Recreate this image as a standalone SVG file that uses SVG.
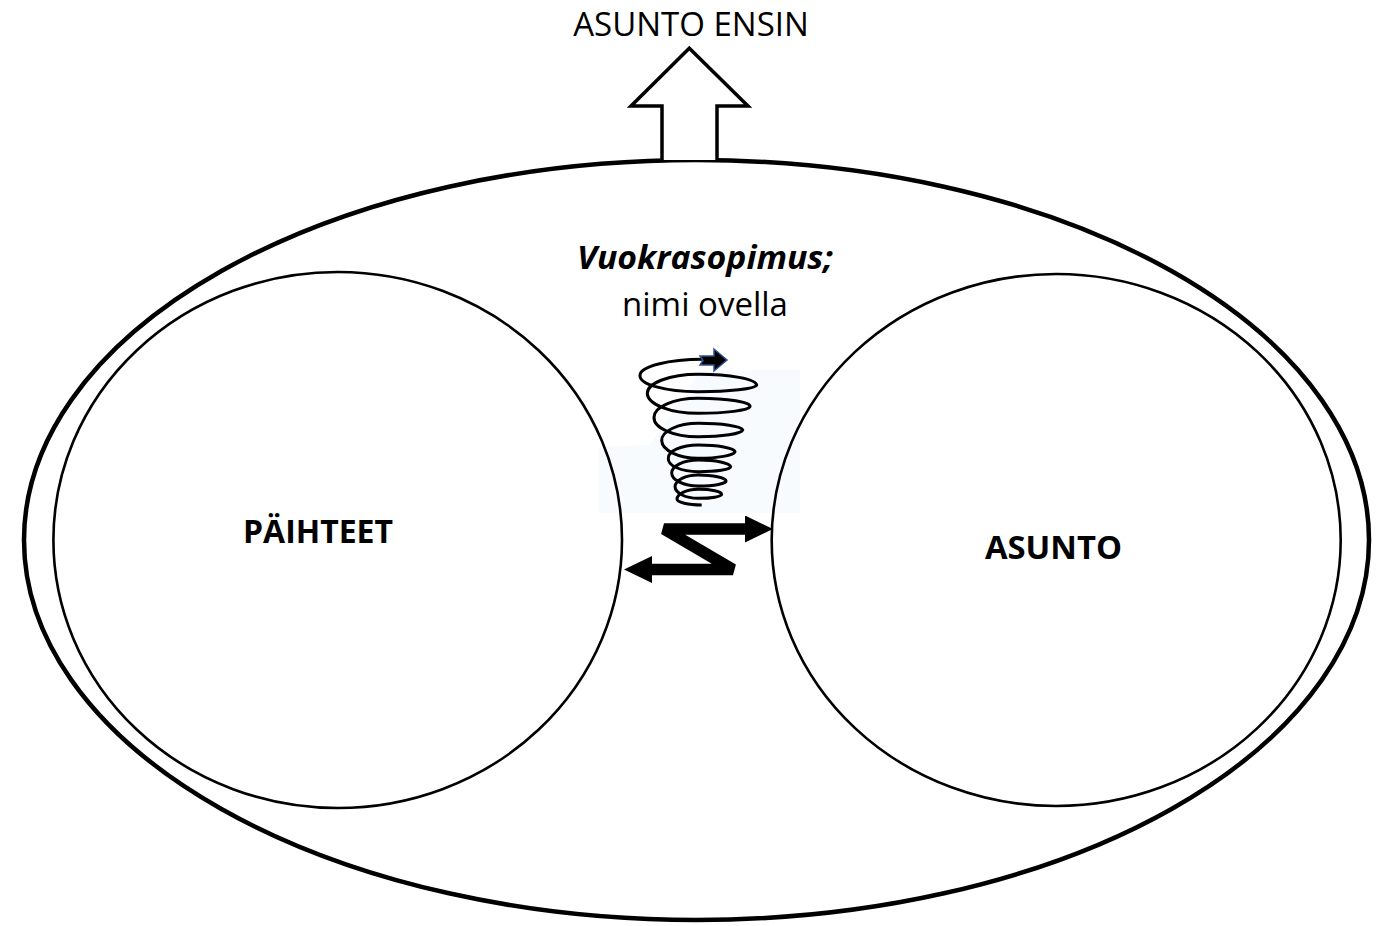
<svg xmlns="http://www.w3.org/2000/svg" width="1386" height="926" viewBox="0 0 1386 926">
<style>
.line{fill:none;stroke:#000}
.txt{font-family:"Open Sans","Liberation Sans",sans-serif;font-size:33px;fill:#000;text-anchor:middle}
.b{font-weight:bold}
.bi{font-weight:bold;font-style:italic}
</style>
<defs>
<marker id="head" markerUnits="userSpaceOnUse" viewBox="0 -13.5 28 27" refX="0" refY="0" markerWidth="28" markerHeight="27" orient="auto-start-reverse">
<path d="M0,-13.5 L28,0 L0,13.5 Z" fill="#000"/>
</marker>
</defs>
<rect width="1386" height="926" fill="#fff"/>
<path d="M760,370 H800 V513 H598 V447 L650,445 L700,372 Z" fill="#F8FBFE"/>
<g id="outer">
<ellipse class="line" cx="696.5" cy="540" rx="672.5" ry="380" stroke-width="4.5"/>
</g>
<g id="paihteet">
<ellipse class="line" cx="337.7" cy="540" rx="284.3" ry="268" stroke-width="2.6"/>
<text class="txt b" x="318" y="543" textLength="150" lengthAdjust="spacingAndGlyphs">PÄIHTEET</text>
</g>
<g id="asunto">
<ellipse class="line" cx="1056.2" cy="540" rx="284.5" ry="266" stroke-width="2.6"/>
<text class="txt b" x="1053.5" y="559" textLength="137" lengthAdjust="spacingAndGlyphs">ASUNTO</text>
</g>
<g id="asunto-ensin">
<text class="txt" x="691" y="36">ASUNTO ENSIN</text>
<path d="M662,160 V106 H631 L689.3,48.3 L748,106 H717 V160" fill="#fff" stroke="#000" stroke-width="3.5" stroke-linejoin="miter"/>
</g>
<g id="vuokrasopimus">
<text class="txt bi" x="705" y="269" textLength="256" lengthAdjust="spacingAndGlyphs">Vuokrasopimus;</text>
<text class="txt" x="705" y="316">nimi ovella</text>
</g>
<g id="spiral">
<path class="line" stroke-width="3" d="M703.3,359.3 A63,16 0 0 0 640,375.3 A58,16 0 0 0 698.3,391.7 A58,7 0 0 0 756.7,385 A58,11 0 0 0 698.3,374.3 A51,19 0 0 0 647.3,393.7 A51,20 0 0 0 698.3,413.3 A52,7 0 0 0 750,406.7 A52,8 0 0 0 698.3,398.3 A44,19 0 0 0 654,417.3 A44,19 0 0 0 698.3,436.7 A44,7 0 0 0 742.7,430 A44,7 0 0 0 698.3,423.3 A37,17 0 0 0 661.7,440.7 A37,18 0 0 0 698.3,458.3 A37,7 0 0 0 735,451.7 A37,7 0 0 0 698.3,445 A30,13 0 0 0 668.3,458.3 A30,13 0 0 0 698.3,471.7 A32,5 0 0 0 730.7,466.7 A32,7 0 0 0 698.3,460 A27,13 0 0 0 671.7,473 A27,13 0 0 0 698.3,486 A28,5 0 0 0 726,480.7 A28,6 0 0 0 698.3,475 A23,12 0 0 0 675,486.7 A23,12 0 0 0 698.3,498.3 A23,4 0 0 0 721.7,494.3 A23,5 0 0 0 698.3,489.3 A21,10 0 0 0 677,499 A25,6 0 0 0 701.7,505"/>
<path d="M700,356 H714 V349 L727,360 L714,371 V365 H700 L703,360.5 Z" fill="#000" stroke="#2F528F" stroke-width="1.5" stroke-linejoin="miter"/>
</g>
<g id="connectors">
<polyline class="line" points="745,529 664,529 733,569.5 652,569.5" stroke-width="11.5" stroke-linejoin="bevel" marker-start="url(#head)" marker-end="url(#head)"/>
</g>
</svg>
